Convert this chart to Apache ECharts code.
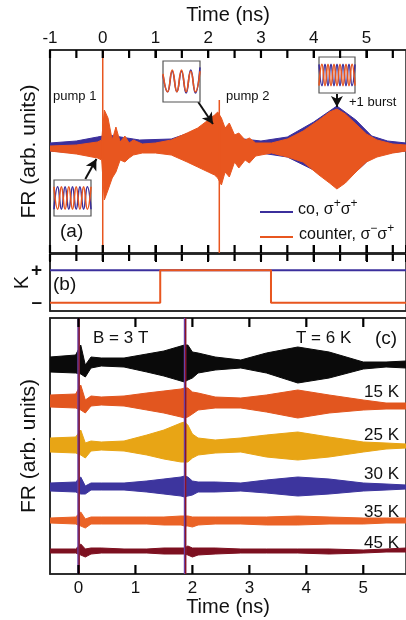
<!DOCTYPE html>
<html><head><meta charset="utf-8">
<script src="https://cdn.jsdelivr.net/npm/echarts@6/dist/echarts.min.js"></script>
<style>html,body{margin:0;padding:0;background:#fff}#c{width:406px;height:620px}</style>
</head><body><div id="c"></div>
<script>
// ---------- Panel (a): FR envelopes vs time (ns), arb. units ----------
const coTime = [-1,-0.5,-0.1,0,0.1,0.7,1.3,1.8,2.2,2.5,3.0,3.5,4.0,4.44,4.8,5.1,5.4,5.75];
const coHi   = [110,112,116,117,118,113,114,123,128,115,112,116,131,147,133,117,112,110];
const coLo   = [102,100,97,96,95,101,100,88,83,97,100,96,83,67,81,96,100,102];

const ctTime = [-1,-0.5,-0.1,-0.02,0.03,0.1,0.18,0.25,0.33,0.42,0.5,0.58,0.75,1.0,1.3,1.6,1.8,2.0,2.12,2.18,2.25,2.32,2.4,2.5,2.58,2.7,2.78,2.9,3.2,3.5,3.8,4.1,4.3,4.44,4.6,4.8,5.0,5.2,5.5,5.75];
const ctHi   = [107,108,111,113,143,135,113,126,111,117,110,113,109,110,113,120,125,133,138,141,135,125,130,118,120,113,115,110,110,114,122,133,141,144,139,129,119,113,109,108];
const ctLo   = [102,99,95,93,53,63,75,81,93,91,95,98,100,100,98,91,86,81,78,75,68,81,76,91,85,93,90,97,100,96,91,78,70,64,70,81,91,96,100,102];

// pump spikes: [time, low, high]
const pumpSpikesA = [[0, 0, 203], [2.21, 0, 153]];
// arrows from insets to trace: [[t0,v0],[t1,v1]]
const arrowsA = [[[-0.33,74],[-0.12,94]], [[1.81,151],[2.09,129]], [[4.44,159],[4.44,146]]];

// tick positions (ns)
const majorTicksA = [-1,0,1,2,3,4,5];
const minorTicksA = [-0.5,0.5,1.5,2.5,3.5,4.5,5.5];
const majorTicksC = [0,1,2,3,4,5];

// inset waveforms
const inset1Co = [-1,1,-1,1,-1,1,-1,1,-1,1,-1];
const inset1Ct = [1,-1,1,-1,1,-1,1,-1,1,-1,1];
const inset2Co = [0.5,-0.8,0.8,-0.8,0.8,-0.9,0.9,-0.9,1.1];
const inset2Ct = [0.6,-0.8,0.9,-0.8,0.9,-0.8,0.8,-0.8,0.8];
const inset3Co = [1,-1,1,-1,1,-1,1,-1,1,-1,1,-1,1];
const inset3Ct = [-1,1,-1,1,-1,1,-1,1,-1,1,-1,1,-1];

// ---------- Panel (b): helicity K ----------
const coStateTime = [-1, 5.75];
const coState = [1, 1];
const ctStateTime = [-1, 1.09, 1.09, 3.19, 3.19, 5.75];
const ctState = [-1, -1, 1, 1, -1, -1];

// ---------- Panel (c): temperature series ----------
const tC = [-0.5,-0.05,0.04,0.12,0.22,0.4,0.8,1.2,1.5,1.8,1.86,1.92,2.0,2.1,2.4,2.85,3.3,3.85,4.4,5.0,5.4,5.75];
const tempLabels = ['T = 6 K','15 K','25 K','30 K','35 K','45 K'];
const hi6  = [217,219,229,209,217,216,216,220,223,228,229,229,222,221,217,214,221,227,222,212,212,213];
const lo6  = [202,201,200,197,206,208,207,202,198,193,192,194,196,201,204,206,201,191,196,205,207,206];
const hi15 = [179,180,189,174,178,177,178,181,183,185,186,186,182,181,177,176,179,184,179,174,171,171];
const lo15 = [167,166,164,161,168,169,168,164,161,157,156,157,160,164,166,166,162,156,161,164,165,165];
const hi25 = [136,137,144,131,133,132,133,139,144,151,152,149,140,136,134,136,139,142,137,132,131,130];
const lo25 = [122,121,119,116,123,124,123,119,115,112,112,112,116,119,121,122,117,114,117,122,125,126];
const hi30 = [91,92,97,88,91,91,91,93,95,97,98,97,93,92,92,91,94,97,95,91,90,89];
const lo30 = [83,82,80,80,84,84,84,82,80,78,77,78,79,82,82,83,81,78,80,83,84,85];
const hi35 = [56,57,62,55,57,57,57,57,57,58,58,58,57,57,57,57,57,58,57,56,56,56];
const lo35 = [51,50,48,46,50,50,50,50,49,49,48,48,47,49,50,50,49,49,50,50,51,51];
const hi45 = [25,25,30,25,26,26,25,25,26,26,26,28,26,26,26,25,25,25,25,24,25,26];
const lo45 = [21,21,19,17,20,21,21,21,20,20,20,19,17,19,20,21,21,21,20,21,22,22];
const pumpC = [0, 1.87];

// ---------- styling ----------
const FONT = 'Liberation Sans, Arial, Helvetica, sans-serif';
const BLUE = '#3b2f9c', ORANGE = '#e8561f';
const cColors = ['#0a0a0a', '#e2561f', '#e8a515', '#3d359e', '#ea6326', '#7d1020'];

const series = [];
function band(name, xi, yi, times, hi, lo, color, z) {
  const data = times.map((t, i) => [t, lo[i], hi[i]]);
  return {
    type: 'custom', name, xAxisIndex: xi, yAxisIndex: yi, z, clip: true, silent: true,
    data, encode: { x: 0, y: [1, 2] },
    renderItem(params, api) {
      if (params.dataIndex !== 0) return null;
      const up = data.map(d => api.coord([d[0], d[2]]));
      const dn = data.map(d => api.coord([d[0], d[1]])).reverse();
      return { type: 'polygon', shape: { points: up.concat(dn) },
        style: { fill: color, stroke: color, lineWidth: 1 } };
    }
  };
}
function ln(xi, yi, data, color, width, z) {
  return { type: 'line', xAxisIndex: xi, yAxisIndex: yi, data, showSymbol: false, symbol: 'none',
    lineStyle: { color, width }, z, silent: true, animation: false, clip: false };
}
// inward tick marks: one custom item per tick, placed through the axis scale
function tickSeries(xi, yi, values, edge, lenPx) {
  return {
    type: 'custom', xAxisIndex: xi, yAxisIndex: yi, z: 30, clip: false, silent: true,
    data: values.map(v => [v, edge]), encode: { x: 0, y: 1 },
    renderItem(params, api) {
      const p = api.coord([api.value(0), api.value(1)]);
      return { type: 'rect', shape: { x: p[0] - 1.1, y: lenPx > 0 ? p[1] - lenPx : p[1], width: 2.2, height: Math.abs(lenPx) },
        style: { fill: '#000' } };
    }
  };
}
const intFmt = v => (Math.abs(v - Math.round(v)) < 1e-9 ? String(Math.round(v)) : '');

series.push(band('co', 0, 0, coTime, coHi, coLo, BLUE, 2));
series.push(band('counter', 0, 0, ctTime, ctHi, ctLo, ORANGE, 3));
pumpSpikesA.forEach(p => series.push(ln(0, 0, [[p[0], p[1]], [p[0], p[2]]], ORANGE, 1.5, 4)));
series.push({
  type: 'line', xAxisIndex: 0, yAxisIndex: 0, data: arrowsA.map(a => a[0]), symbol: 'none',
  lineStyle: { width: 0 }, z: 6, silent: true,
  markLine: { silent: true, symbol: ['none', 'arrow'], symbolSize: [9, 11], animation: false,
    label: { show: false }, lineStyle: { color: '#111', width: 2, type: 'solid' },
    data: arrowsA.map(a => [{ coord: a[0] }, { coord: a[1] }]) }
});
// ticks (lenPx < 0: downward from top edge; > 0: upward from bottom edge)
series.push(tickSeries(0, 0, majorTicksA.concat(minorTicksA), 203, -8));
series.push(tickSeries(0, 0, majorTicksA.concat(minorTicksA), 0, 8));
series.push(tickSeries(2, 1, majorTicksA.concat(minorTicksA), 2, -7));
series.push(tickSeries(4, 2, majorTicksC, 256, -9));
series.push(tickSeries(4, 2, majorTicksC, 0, 9));
// (b)
series.push(ln(2, 1, coStateTime.map((t, i) => [t, coState[i]]), BLUE, 2, 3));
series.push(ln(2, 1, ctStateTime.map((t, i) => [t, ctState[i]]), ORANGE, 2, 4));
// (c)
const cHi = [hi6, hi15, hi25, hi30, hi35, hi45], cLo = [lo6, lo15, lo25, lo30, lo35, lo45];
cHi.forEach((h, k) => series.push(band(tempLabels[k], 4, 2, tC, h, cLo[k], cColors[k], 2 + k * 0.01)));
pumpC.forEach(p => {
  series.push(ln(4, 2, [[p, 0], [p, 256]], '#6b3fa6', 2.4, 5));
  series.push(ln(4, 2, [[p + 0.012, 0], [p + 0.012, 256]], '#8a1422', 1.3, 6));
});
// insets
const insets = [[inset1Co, inset1Ct], [inset2Co, inset2Ct], [inset3Co, inset3Ct]];
insets.forEach((pair, k) => {
  const s1 = ln(6 + k, 3 + k, pair[0].map((v, i) => [i, v]), BLUE, 1.6, 10);
  const s2 = ln(6 + k, 3 + k, pair[1].map((v, i) => [i, v]), ORANGE, 1.6, 11);
  s1.smooth = 0.5; s2.smooth = 0.5; s1.clip = true; s2.clip = true;
  series.push(s1, s2);
});

const lineAx = { show: true, onZero: false, lineStyle: { color: '#222', width: 1.5 } };
const tickIn = { show: true, inside: true, length: 8, lineStyle: { color: '#000', width: 2 } };
const lbl = { color: '#111', fontSize: 17, fontFamily: FONT };

const xAxis = [
  { gridIndex: 0, type: 'value', position: 'top', min: -1, max: 5.75, interval: 1,
    name: 'Time (ns)', nameLocation: 'middle', nameGap: 25,
    nameTextStyle: { fontSize: 20, fontFamily: FONT, color: '#111' },
    axisLine: lineAx, axisTick: tickIn, splitLine: { show: false },
    axisLabel: Object.assign({ margin: 3, formatter: intFmt, showMaxLabel: false }, lbl) },
  { gridIndex: 0, type: 'value', position: 'bottom', min: -1, max: 5.75, interval: 1,
    axisLine: lineAx, axisTick: tickIn, splitLine: { show: false }, axisLabel: { show: false } },
  { gridIndex: 1, type: 'value', position: 'top', min: -1, max: 5.75, interval: 1,
    axisLine: lineAx, axisTick: tickIn, splitLine: { show: false }, axisLabel: { show: false } },
  { gridIndex: 1, type: 'value', position: 'bottom', min: -1, max: 5.75,
    axisLine: lineAx, axisTick: { show: false }, splitLine: { show: false }, axisLabel: { show: false } },
  { gridIndex: 2, type: 'value', position: 'bottom', min: -0.5, max: 5.75, minInterval: 1, maxInterval: 1,
    name: 'Time (ns)', nameLocation: 'middle', nameGap: 22,
    nameTextStyle: { fontSize: 20, fontFamily: FONT, color: '#111' },
    axisLine: lineAx, axisTick: { show: false }, splitLine: { show: false },
    axisLabel: Object.assign({ margin: 6, formatter: intFmt, showMinLabel: false, showMaxLabel: false }, lbl) },
  { gridIndex: 2, type: 'value', position: 'top', min: -0.5, max: 5.75,
    axisLine: lineAx, axisTick: { show: false }, splitLine: { show: false }, axisLabel: { show: false } },
  { gridIndex: 3, type: 'value', min: 0, max: 10, show: false },
  { gridIndex: 4, type: 'value', min: 0, max: 8, show: false },
  { gridIndex: 5, type: 'value', min: 0, max: 12, show: false }
];
const yAxis = [
  { gridIndex: 0, type: 'value', min: 0, max: 203, name: 'FR (arb. units)', nameLocation: 'middle', nameGap: 10,
    nameTextStyle: { fontSize: 21, fontFamily: FONT, color: '#111' },
    axisLine: lineAx, axisTick: { show: false }, axisLabel: { show: false }, splitLine: { show: false } },
  { gridIndex: 1, type: 'value', min: -1.5, max: 2, interval: 0.5, name: 'K', nameLocation: 'middle', nameGap: 18,
    nameMoveOverlap: false,
    nameTextStyle: { fontSize: 20, fontFamily: FONT, color: '#111' },
    axisLine: lineAx, axisTick: { show: false }, splitLine: { show: false },
    axisLabel: { margin: 8, fontSize: 19, fontWeight: 'bold', fontFamily: FONT, color: '#111',
      formatter: v => (v === 1 ? '+' : (v === -1 ? '–' : '')) } },
  { gridIndex: 2, type: 'value', min: 0, max: 256, name: 'FR (arb. units)', nameLocation: 'middle', nameGap: 10,
    nameTextStyle: { fontSize: 21, fontFamily: FONT, color: '#111' },
    axisLine: lineAx, axisTick: { show: false }, axisLabel: { show: false }, splitLine: { show: false } },
  { gridIndex: 3, type: 'value', min: -1.6, max: 1.6, show: false },
  { gridIndex: 4, type: 'value', min: -1.6, max: 1.6, show: false },
  { gridIndex: 5, type: 'value', min: -1.7, max: 1.7, show: false }
];
const frame = { show: true, borderColor: '#222', borderWidth: 1.5 };
const insetFrame = { show: true, borderColor: '#555', borderWidth: 1.2, backgroundColor: '#fff', z: 9 };
const grid = [
  Object.assign({ left: 50, top: 50, width: 360, height: 203 }, frame),
  Object.assign({ left: 50, top: 254, width: 360, height: 57 }, frame),
  Object.assign({ left: 50, top: 318, width: 361, height: 256 }, frame),
  Object.assign({ left: 54, top: 180, width: 37, height: 36 }, insetFrame),
  Object.assign({ left: 163, top: 61, width: 37, height: 41 }, insetFrame),
  Object.assign({ left: 319, top: 57, width: 36, height: 36 }, insetFrame)
];

function txt(x, y, text, size, align, extra) {
  return { type: 'text', x, y, z: 20, style: Object.assign({ text, fontSize: size, fontFamily: FONT, fill: '#111',
    align: align || 'left', verticalAlign: 'middle' }, extra || {}) };
}
const richLeg = { n: { fontSize: 16, fontFamily: FONT, color: '#111' },
  p: { fontSize: 12, fontFamily: FONT, color: '#111', padding: [0, 0, 13, 0] } };
const graphic = [
  txt(53, 96, 'pump 1', 13),
  txt(226, 96, 'pump 2', 13),
  txt(349, 102, '+1 burst', 13),
  txt(60, 232, '(a)', 19),
  { type: 'line', z: 20, shape: { x1: 260, y1: 212, x2: 293, y2: 212 }, style: { stroke: BLUE, lineWidth: 2 } },
  { type: 'line', z: 20, shape: { x1: 260, y1: 237, x2: 293, y2: 237 }, style: { stroke: ORANGE, lineWidth: 2 } },
  txt(298, 210, '{n|co, σ}{p|+}{n|σ}{p|+}', 16, 'left', { rich: richLeg }),
  txt(299, 235, '{n|counter, σ}{p|−}{n|σ}{p|+}', 16, 'left', { rich: richLeg }),
  txt(53, 285, '(b)', 19),
  txt(93, 338, 'B = 3 T', 17),
  txt(296, 338, tempLabels[0], 17),
  txt(375, 339, '(c)', 19),
  txt(399, 392, tempLabels[1], 17, 'right'),
  txt(399, 435, tempLabels[2], 17, 'right'),
  txt(399, 474, tempLabels[3], 17, 'right'),
  txt(399, 512, tempLabels[4], 17, 'right'),
  txt(399, 543, tempLabels[5], 17, 'right')
];

const chart = echarts.init(document.getElementById('c'), null, { renderer: 'canvas' });
chart.setOption({ animation: false, backgroundColor: '#fff', grid, xAxis, yAxis, series, graphic });
</script></body></html>
